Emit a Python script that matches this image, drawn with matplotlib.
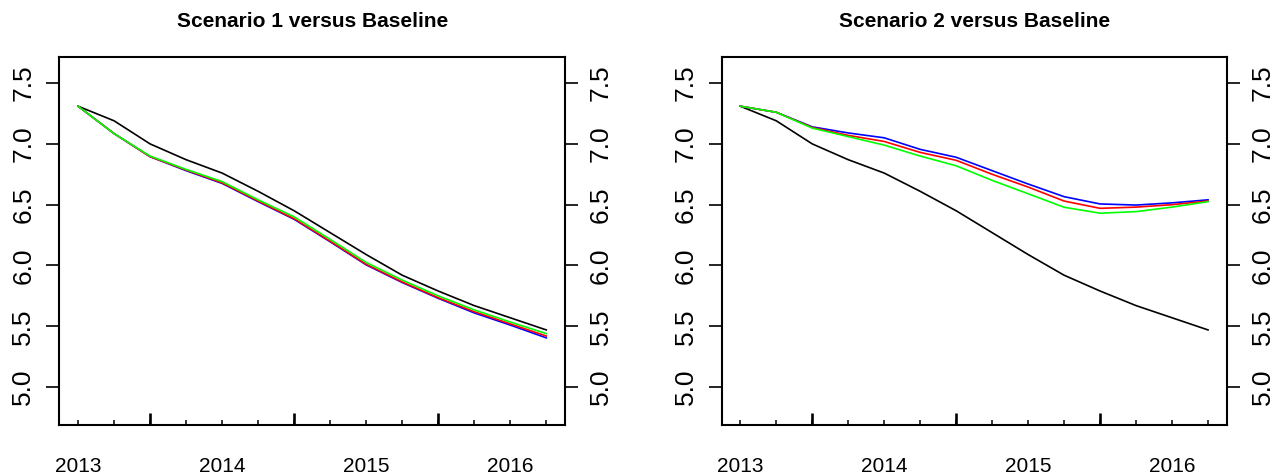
import matplotlib
matplotlib.use("Agg")
import matplotlib.pyplot as plt

plt.rcParams['font.family'] = ['Liberation Sans', 'DejaVu Sans']

# quarterly index 2013Q1 .. 2016Q2
quarters = list(range(14))
year_pos = [0, 4, 8, 12]
year_labels = ["2013", "2014", "2015", "2016"]
mid_year = [2, 6, 10]
y_ticks = [5.0, 5.5, 6.0, 6.5, 7.0, 7.5]

baseline = [7.31, 7.19, 7.00, 6.87, 6.76, 6.61, 6.45, 6.27, 6.09, 5.92, 5.79, 5.67, 5.57, 5.47]

s1_blue = [7.31, 7.085, 6.895, 6.78, 6.675, 6.525, 6.38, 6.195, 6.005, 5.86, 5.73, 5.61, 5.51, 5.405]
s1_red = [7.31, 7.085, 6.895, 6.785, 6.68, 6.53, 6.385, 6.20, 6.01, 5.865, 5.735, 5.62, 5.52, 5.42]
s1_green = [7.31, 7.085, 6.90, 6.79, 6.69, 6.54, 6.40, 6.215, 6.025, 5.88, 5.75, 5.635, 5.535, 5.44]

s2_blue = [7.31, 7.26, 7.14, 7.09, 7.05, 6.955, 6.89, 6.78, 6.67, 6.566, 6.506, 6.497, 6.515, 6.54]
s2_red = [7.31, 7.26, 7.135, 7.07, 7.02, 6.93, 6.865, 6.75, 6.645, 6.53, 6.47, 6.48, 6.50, 6.53]
s2_green = [7.31, 7.26, 7.13, 7.06, 6.99, 6.90, 6.82, 6.70, 6.59, 6.479, 6.43, 6.443, 6.48, 6.525]


def draw(ax, title, blue, red, green):
    ax.plot(quarters, baseline, color='black', lw=1.2)
    ax.plot(quarters, blue, color='#0000FF', lw=1.2)
    ax.plot(quarters, red, color='#FF0000', lw=1.2)
    ax.plot(quarters, green, color='#00FF00', lw=1.2)

    ax.set_xlim(-0.52, 13.52)
    ax.set_ylim(4.688, 7.712)
    ax.set_title(title, fontsize=15, fontweight='bold', pad=22)
    for s in ax.spines.values():
        s.set_linewidth(1.5)

    # y axis on both sides, vertical labels
    ax.set_yticks(y_ticks, ["%.1f" % v for v in y_ticks])
    ax.tick_params(axis='y', left=True, right=True, labelleft=True, labelright=True,
                   direction='out', length=9.4, width=1.2, labelsize=19, pad=7.8)
    for t in ax.yaxis.get_major_ticks():
        t.label1.set_rotation(90)
        t.label1.set_va('center')
        t.label2.set_rotation(90)
        t.label2.set_va('center')

    # x axis: year labels, small inward quarter ticks, longer mid-year ticks
    ax.xaxis.remove_overlapping_locs = False
    ax.set_xticks(year_pos, year_labels)
    ax.tick_params(axis='x', which='major', length=0, labelsize=15, pad=23)
    ax.set_xticks(quarters, minor=True)
    ax.tick_params(axis='x', which='minor', direction='in', length=3.6, width=1.1)
    sec = ax.secondary_xaxis('bottom')
    sec.set_xticks(mid_year)
    sec.tick_params(direction='in', length=8.5, width=1.9, labelbottom=False)
    sec.spines['bottom'].set_visible(False)


fig = plt.figure(figsize=(12.78, 4.76), dpi=100)
ax1 = fig.add_axes([0.0464, 0.1071, 0.3957, 0.7725])
ax2 = fig.add_axes([0.5646, 0.1071, 0.3953, 0.7725])

draw(ax1, "Scenario 1 versus Baseline", s1_blue, s1_red, s1_green)
draw(ax2, "Scenario 2 versus Baseline", s2_blue, s2_red, s2_green)

fig.savefig("out.png", dpi=100)
